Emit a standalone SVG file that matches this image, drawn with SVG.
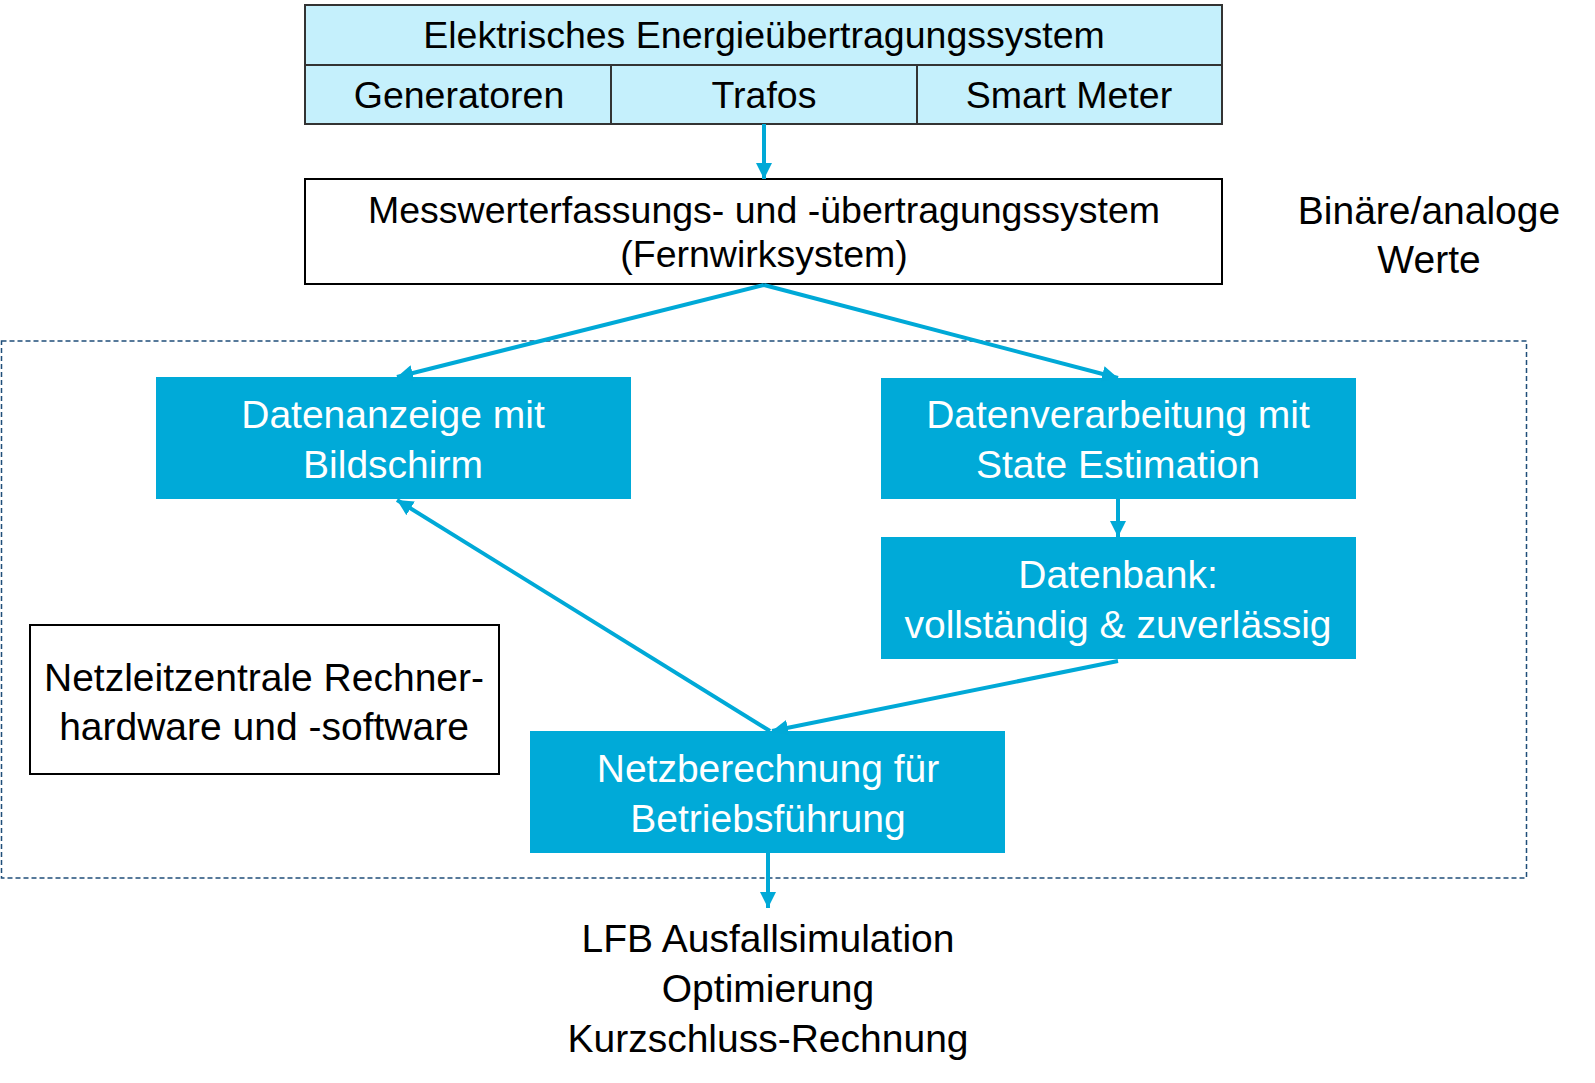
<svg xmlns="http://www.w3.org/2000/svg" width="1595" height="1083" viewBox="0 0 1595 1083">
<defs>
<marker id="ah" markerUnits="userSpaceOnUse" markerWidth="16" markerHeight="16" viewBox="0 0 16 16" refX="16" refY="8" orient="auto">
<path d="M0,0 L16,8 L0,16 z" fill="#00A9D7"/>
</marker>
<style>
.t{font-family:"Liberation Sans",Arial,sans-serif;font-size:39px;text-anchor:middle;fill:#000}
.s{font-size:37.5px}
.w{fill:#fff}
.sys{fill:#C5F0FC;stroke:#333;stroke-width:2}
.wbox{fill:#fff;stroke:#000;stroke-width:2}
.bbox{fill:#00AAD8}
.con{stroke:#00A9D7;stroke-width:4;fill:none;marker-end:url(#ah)}
</style>
</defs>
<rect width="1595" height="1083" fill="#fff"/>
<g id="container">
<rect x="1.5" y="341" width="1525" height="537" fill="none" stroke="#1F4E79" stroke-width="1.5" stroke-dasharray="5,3"/>
</g>
<g id="energiesystem">
<rect class="sys" x="305" y="5" width="917" height="119"/>
<line x1="305" y1="65" x2="1222" y2="65" stroke="#333" stroke-width="2"/>
<line x1="611" y1="65" x2="611" y2="124" stroke="#333" stroke-width="2"/>
<line x1="917" y1="65" x2="917" y2="124" stroke="#333" stroke-width="2"/>
<text class="t s" x="764" y="48">Elektrisches Energieübertragungssystem</text>
<text class="t s" x="459" y="108">Generatoren</text>
<text class="t s" x="764" y="108">Trafos</text>
<text class="t s" x="1069" y="108">Smart Meter</text>
</g>
<g id="messwert">
<rect class="wbox" x="305" y="179" width="917" height="105"/>
<text class="t s" x="764" y="223">Messwerterfassungs- und -übertragungssystem</text>
<text class="t s" x="764" y="267">(Fernwirksystem)</text>
</g>
<g id="werte">
<text class="t" x="1429" y="224">Binäre/analoge</text>
<text class="t" x="1429" y="273">Werte</text>
</g>
<g id="datenanzeige">
<rect class="bbox" x="156" y="377" width="475" height="122"/>
<text class="t w" x="393" y="428">Datenanzeige mit</text>
<text class="t w" x="393" y="478">Bildschirm</text>
</g>
<g id="datenverarbeitung">
<rect class="bbox" x="881" y="378" width="475" height="121"/>
<text class="t w" x="1118" y="428">Datenverarbeitung mit</text>
<text class="t w" x="1118" y="478">State Estimation</text>
</g>
<g id="datenbank">
<rect class="bbox" x="881" y="537" width="475" height="122"/>
<text class="t w" x="1118" y="588">Datenbank:</text>
<text class="t w" x="1118" y="638">vollständig &amp; zuverlässig</text>
</g>
<g id="netzleitzentrale">
<rect class="wbox" x="30" y="625" width="469" height="149"/>
<text class="t" x="264" y="691">Netzleitzentrale Rechner-</text>
<text class="t" x="264" y="740">hardware und -software</text>
</g>
<g id="netzberechnung">
<rect class="bbox" x="530" y="731" width="475" height="122"/>
<text class="t w" x="768" y="782">Netzberechnung für</text>
<text class="t w" x="768" y="832">Betriebsführung</text>
</g>
<g id="ergebnisse">
<text class="t" x="768" y="952">LFB Ausfallsimulation</text>
<text class="t" x="768" y="1002">Optimierung</text>
<text class="t" x="768" y="1052">Kurzschluss-Rechnung</text>
</g>
<g id="connectors">
<line class="con" x1="764" y1="124" x2="764" y2="179"/>
<line class="con" x1="764" y1="285" x2="397" y2="377"/>
<line class="con" x1="764" y1="285" x2="1118" y2="378"/>
<line class="con" x1="1118" y1="499" x2="1118" y2="537"/>
<line class="con" x1="1118" y1="661" x2="772" y2="731"/>
<line class="con" x1="770" y1="731" x2="397" y2="500"/>
<line class="con" x1="768" y1="853" x2="768" y2="908"/>
</g>
</svg>
